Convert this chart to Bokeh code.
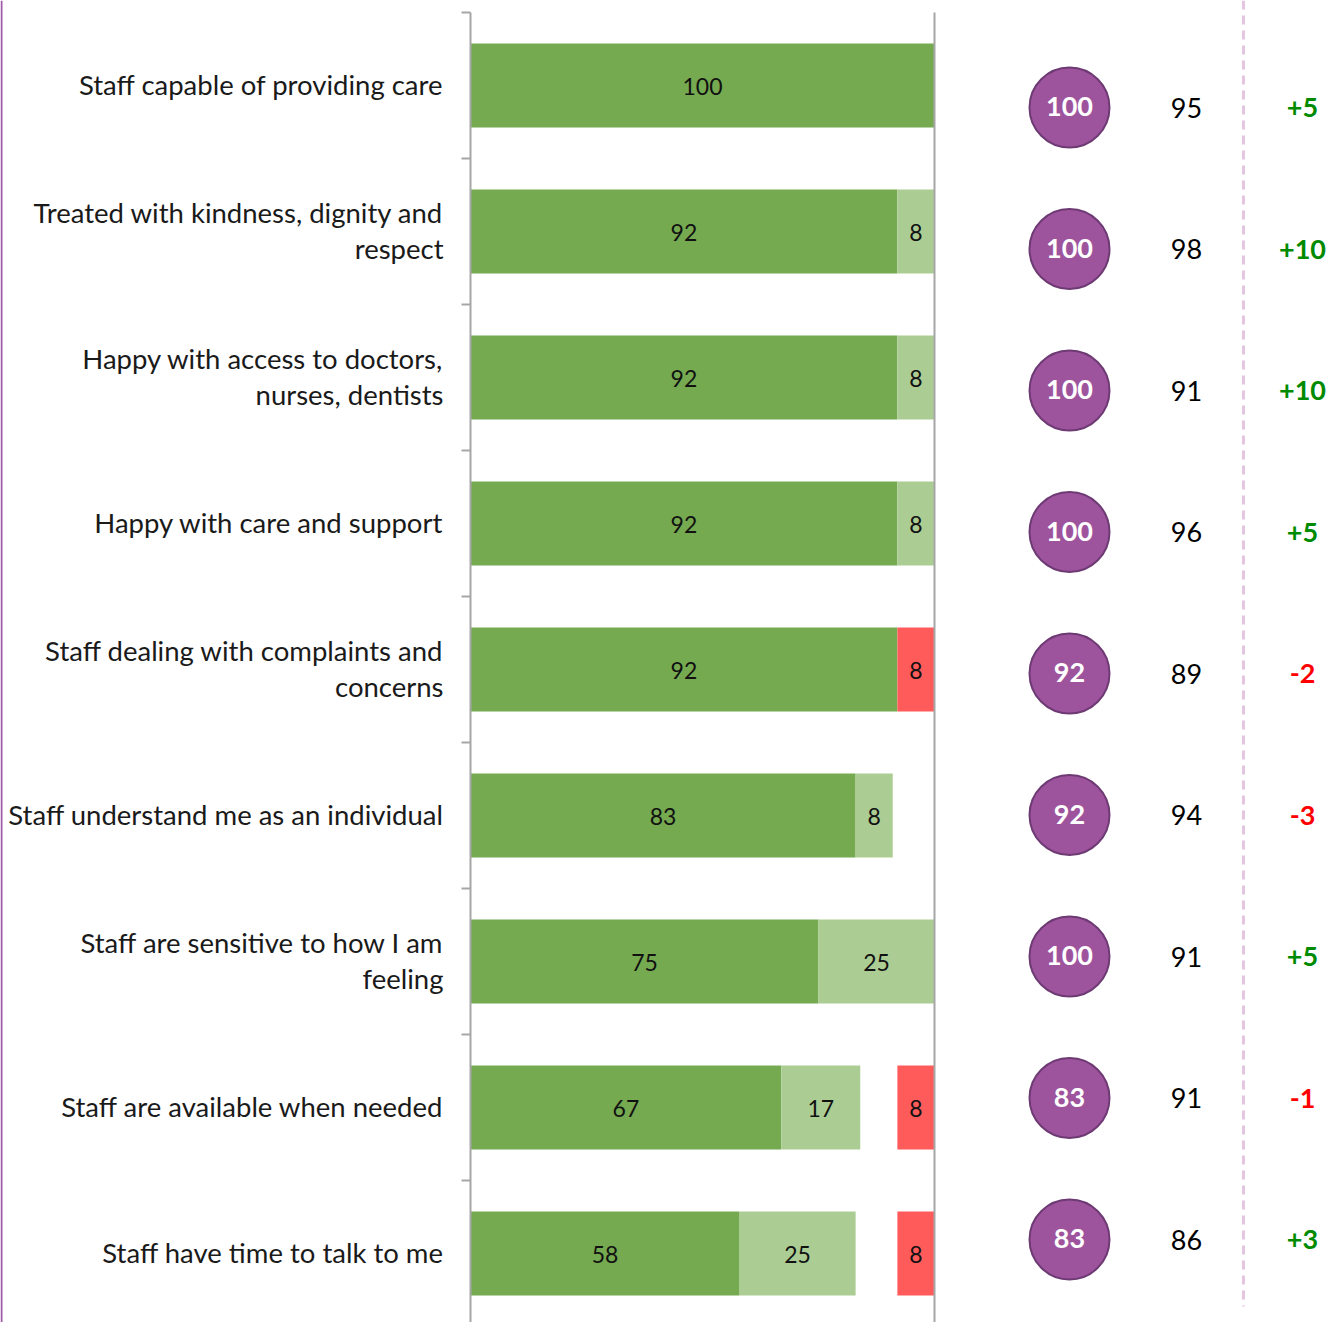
from bokeh.plotting import figure
from bokeh.models import Range1d
from bokeh.core.properties import value
from bokeh.embed import file_html
from bokeh.resources import INLINE

categories = [
    "Staff capable of providing care",
    "Treated with kindness, dignity and\nrespect",
    "Happy with access to doctors,\nnurses, dentists",
    "Happy with care and support",
    "Staff dealing with complaints and\nconcerns",
    "Staff understand me as an individual",
    "Staff are sensitive to how I am\nfeeling",
    "Staff are available when needed",
    "Staff have time to talk to me",
]
strongly_agree = [100, 92, 92, 92, 92, 83, 75, 67, 58]
agree = [0, 8, 8, 8, 0, 8, 25, 17, 25]
disagree = [0, 0, 0, 0, 8, 0, 0, 8, 8]
overall = [100, 100, 100, 100, 92, 92, 100, 83, 83]
comparison = [95, 98, 91, 96, 89, 94, 91, 91, 86]
change = [5, 10, 10, 5, -2, -3, 5, -1, 3]

W, H = 1343, 1322
AX = 470.0      # pixel position of 0 %
PX = 4.64       # pixels per percentage point
FONT = "Lato"


def xd(px):
    return (px - AX) / PX


n = len(categories)
band_top, band = 12.0, 146.0
bar_h = 84.0
bar_y = [band_top + band * (i + 0.5) for i in range(n)]
circ_y0, circ_step = 107.0, 141.5
circ_y = [circ_y0 + circ_step * i for i in range(n)]

p = figure(width=W, height=H, output_backend="svg", toolbar_location=None,
           x_range=Range1d(xd(0), xd(W)), y_range=Range1d(H, 0),
           min_border=0, outline_line_color=None)
p.axis.visible = False
p.grid.visible = False
p.background_fill_color = "white"

DG, LG, RD = "#75AA50", "#ABCD94", "#FF5B5B"

# bars
for i in range(n):
    sa, ag, ds = strongly_agree[i], agree[i], disagree[i]
    segs = []
    if sa > 0:
        segs.append((0, sa, DG, sa))
    if ag > 0:
        segs.append((sa, sa + ag, LG, ag))
    if ds > 0:
        segs.append((100 - ds, 100, RD, ds))
    for l, r, c, v in segs:
        p.hbar(y=[bar_y[i]], left=[l], right=[r], height=bar_h, fill_color=c, line_color=None)
        p.text(x=[(l + r) / 2], y=[bar_y[i] + 1], text=[str(v)], text_align="center",
               text_baseline="middle", text_font=value(FONT), text_font_size="23px",
               text_color="#111111")

# axis line and tick marks
p.segment(x0=[0], y0=[band_top], x1=[0], y1=[H], line_color="#A6A6A6", line_width=2)
ticks = [band_top + band * k for k in range(n)]
p.segment(x0=[xd(AX - 9)] * n, y0=ticks, x1=[0] * n, y1=ticks, line_color="#A6A6A6", line_width=2)
# right reference line at 100
p.segment(x0=[100], y0=[band_top], x1=[100], y1=[H], line_color="#A6A6A6", line_width=2)
# left purple border
p.segment(x0=[xd(1)], y0=[0], x1=[xd(1)], y1=[H], line_color="#A05AA8", line_width=2)
# dashed separator
p.segment(x0=[xd(1243)], y0=[0], x1=[xd(1243)], y1=[1306], line_color="#E5C6E0",
          line_width=3, line_dash="9 6")

# category labels (right aligned, multi-line)
lx, ly, lt = [], [], []
for i, c in enumerate(categories):
    lines = c.split("\n")
    k = len(lines)
    for j, ln in enumerate(lines):
        lx.append(xd(443))
        ly.append(bar_y[i] - 1 + (j - (k - 1) / 2) * 36)
        lt.append(ln)
p.text(x=lx, y=ly, text=lt, text_align="right", text_baseline="middle",
       text_font=value(FONT), text_font_size="27.5px", text_color="#1a1a1a")

# circles
p.scatter(x=[xd(1069)] * n, y=circ_y, size=80, fill_color="#9E549D",
          line_color="#6E3A74", line_width=2)
p.text(x=[xd(1069)] * n, y=[y - 1 for y in circ_y], text=[str(v) for v in overall],
       text_align="center", text_baseline="middle", text_font=value(FONT),
       text_font_size="27px", text_font_style="bold", text_color="white")

# comparison column
p.text(x=[xd(1186)] * n, y=circ_y, text=[str(v) for v in comparison],
       text_align="center", text_baseline="middle", text_font=value(FONT),
       text_font_size="27px", text_color="black")

# change column
p.text(x=[xd(1302)] * n, y=circ_y,
       text=[("+%d" % v) if v > 0 else str(v) for v in change],
       text_color=["#008A00" if v > 0 else "#FF0000" for v in change],
       text_align="center", text_baseline="middle", text_font=value(FONT),
       text_font_size="27px", text_font_style="bold")

open("out.html", "w").write(file_html(p, INLINE))
